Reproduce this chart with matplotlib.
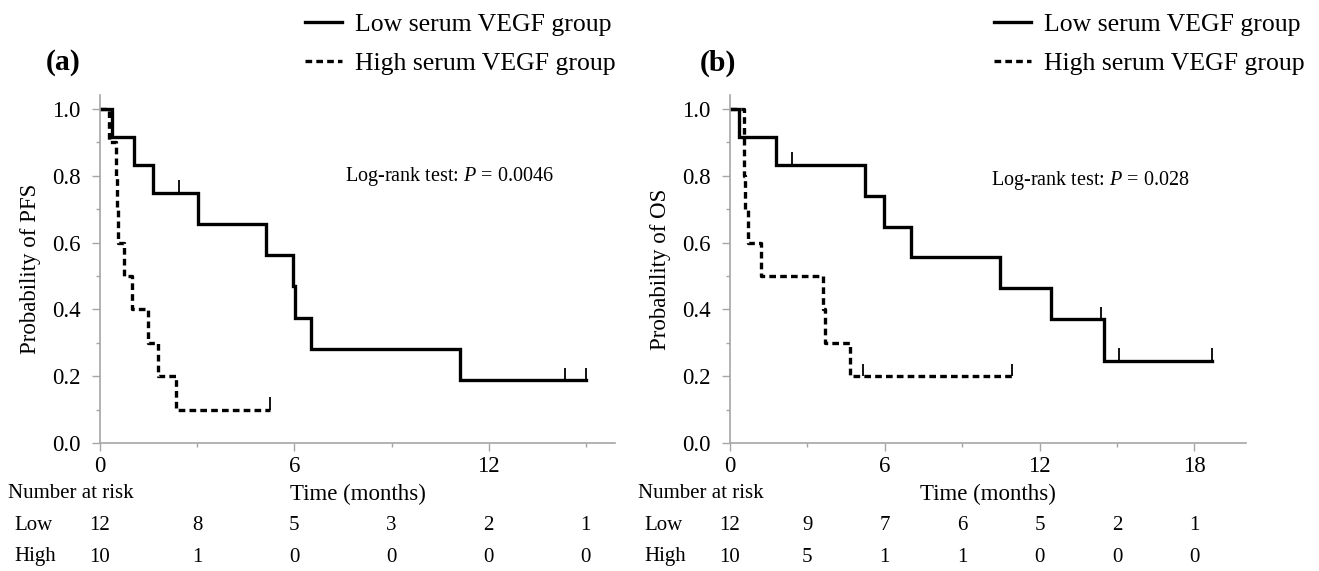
import matplotlib
matplotlib.use("Agg")
import matplotlib.pyplot as plt
from matplotlib.transforms import blended_transform_factory
from matplotlib.ticker import MultipleLocator

plt.rcParams["font.family"] = "Liberation Serif"
plt.rcParams["mathtext.fontset"] = "custom"
plt.rcParams["mathtext.rm"] = "Liberation Serif"
plt.rcParams["mathtext.it"] = "Liberation Serif:italic"

# ── Data ──────────────────────────────────────────────────────────────────────
# (a) PFS
pfs_low_t = [0, 0.37, 1.06, 1.65, 3.02, 5.14, 5.97, 6.03, 6.5, 11.12, 15.0]
pfs_low_s = [1.0, 0.917, 0.833, 0.75, 0.656, 0.563, 0.469, 0.375, 0.281, 0.188, 0.188]
pfs_low_cens_t = [2.44, 14.35, 15.0]
pfs_low_cens_s = [0.75, 0.188, 0.188]

pfs_high_t = [0, 0.28, 0.5, 0.53, 0.56, 0.75, 1.0, 1.49, 1.8, 2.36, 5.25]
pfs_high_s = [1.0, 0.9, 0.8, 0.7, 0.6, 0.5, 0.4, 0.3, 0.2, 0.1, 0.1]
pfs_high_cens_t = [5.25]
pfs_high_cens_s = [0.1]

# (b) OS
os_low_t = [0, 0.36, 1.77, 5.22, 5.97, 7.0, 10.48, 12.45, 14.48, 18.69]
os_low_s = [1.0, 0.917, 0.833, 0.741, 0.648, 0.556, 0.463, 0.370, 0.247, 0.247]
os_low_cens_t = [2.41, 14.39, 15.06, 18.69]
os_low_cens_s = [0.833, 0.370, 0.247, 0.247]

os_high_t = [0, 0.55, 0.56, 0.57, 0.71, 1.19, 3.61, 3.70, 4.65, 10.94]
os_high_s = [1.0, 0.9, 0.8, 0.7, 0.6, 0.5, 0.4, 0.3, 0.2, 0.2]
os_high_cens_t = [5.16, 10.94]
os_high_cens_s = [0.2, 0.2]

# Number at risk tables
pfs_risk_t = [0, 3, 6, 9, 12, 15]
pfs_risk_low = [12, 8, 5, 3, 2, 1]
pfs_risk_high = [10, 1, 0, 0, 0, 0]

os_risk_t = [0, 3, 6, 9, 12, 15, 18]
os_risk_low = [12, 9, 7, 6, 5, 2, 1]
os_risk_high = [10, 5, 1, 1, 0, 0, 0]

# ── Style ────────────────────────────────────────────────────────────────────
C_AXIS = "#a6a6a6"
LW = 2.4
DASH = (2.0, 1.25)
CENS_H = 0.038

W, H = 1319, 571
fig = plt.figure(figsize=(W / 100, H / 100), dpi=100)


def fy(py):
    return 1 - py / H


def panel(left_px, right_px, xmax, xticks, low, high, ylabel, ptext, ptext_xy,
          risk_t, risk_low, risk_high, letter, letter_x, legend_x):
    ax = fig.add_axes([left_px / W, fy(443), (right_px - left_px) / W,
                       (443 - 95) / H])
    ax.set_xlim(0, xmax)
    ax.set_ylim(0, 1.042)

    (lt, ls, lct, lcs), (ht, hs, hct, hcs) = low, high
    ax.step(lt, ls, where="post", color="black", lw=LW,
            label="Low serum VEGF group", solid_joinstyle="miter")
    ax.step(ht, hs, where="post", color="black", lw=LW, dashes=DASH,
            label="High serum VEGF group")
    ax.vlines(lct, lcs, [s + CENS_H for s in lcs], color="black", lw=1.3)
    ax.vlines(hct, hcs, [s + CENS_H for s in hcs], color="black", lw=1.3)

    for side in ("top", "right"):
        ax.spines[side].set_visible(False)
    for side in ("left", "bottom"):
        ax.spines[side].set_color(C_AXIS)
        ax.spines[side].set_linewidth(1.2)

    ax.set_xticks(xticks)
    ax.xaxis.set_minor_locator(MultipleLocator(3))
    ax.set_yticks([0, 0.2, 0.4, 0.6, 0.8, 1.0])
    ax.yaxis.set_minor_locator(MultipleLocator(0.1))
    ax.set_yticklabels(["0.0", "0.2", "0.4", "0.6", "0.8", "1.0"])
    ax.tick_params(which="major", length=6, width=1.0, color=C_AXIS,
                   labelsize=16.5, direction="out")
    ax.tick_params(which="minor", length=3, width=1.0, color=C_AXIS,
                   direction="out")
    ax.tick_params(axis="y", pad=8)
    ax.tick_params(axis="x", pad=3)

    ax.set_ylabel(ylabel, fontsize=16.5)
    ax.yaxis.set_label_coords(-0.115, 0.5)
    ax.set_xlabel("Time (months)", fontsize=16.5)
    ax.xaxis.set_label_coords(0.5, -0.117)

    ax.text(*ptext_xy, ptext, fontsize=14.5, ha="center", va="center")

    # number at risk table
    tr = blended_transform_factory(ax.transData, fig.transFigure)
    fig.text((left_px - 92) / W, fy(494), "Number at risk", fontsize=15,
             ha="left", va="center")
    fig.text((left_px - 86) / W, fy(525), "Low", fontsize=15,
             ha="left", va="center")
    fig.text((left_px - 86) / W, fy(557), "High", fontsize=15,
             ha="left", va="center")
    for t, a, b in zip(risk_t, risk_low, risk_high):
        ax.text(t, fy(525), str(a), transform=tr, fontsize=15,
                ha="center", va="center")
        ax.text(t, fy(557), str(b), transform=tr, fontsize=15,
                ha="center", va="center")

    fig.text(letter_x / W, fy(63), letter, fontsize=21.5, fontweight="bold",
             ha="center", va="center")
    ax.legend(loc="upper left", bbox_to_anchor=(legend_x / W, fy(13)),
              bbox_transform=fig.transFigure, frameon=False, fontsize=18.5,
              borderpad=0, borderaxespad=0, handlelength=1.45,
              handletextpad=0.5, labelspacing=0.62)
    return ax


panel(100, 615, 15.9, [0, 6, 12],
      (pfs_low_t, pfs_low_s, pfs_low_cens_t, pfs_low_cens_s),
      (pfs_high_t, pfs_high_s, pfs_high_cens_t, pfs_high_cens_s),
      "Probability of PFS", "Log-rank test: $\\mathit{P}$ = 0.0046", (10.8, 0.797),
      pfs_risk_t, pfs_risk_low, pfs_risk_high, "(a)", 63, 305)

panel(730, 1246, 20, [0, 6, 12, 18],
      (os_low_t, os_low_s, os_low_cens_t, os_low_cens_s),
      (os_high_t, os_high_s, os_high_cens_t, os_high_cens_s),
      "Probability of OS", "Log-rank test: $\\mathit{P}$ = 0.028", (13.96, 0.786),
      os_risk_t, os_risk_low, os_risk_high, "(b)", 718, 994)

fig.savefig("out.png", dpi=100, facecolor="white")
